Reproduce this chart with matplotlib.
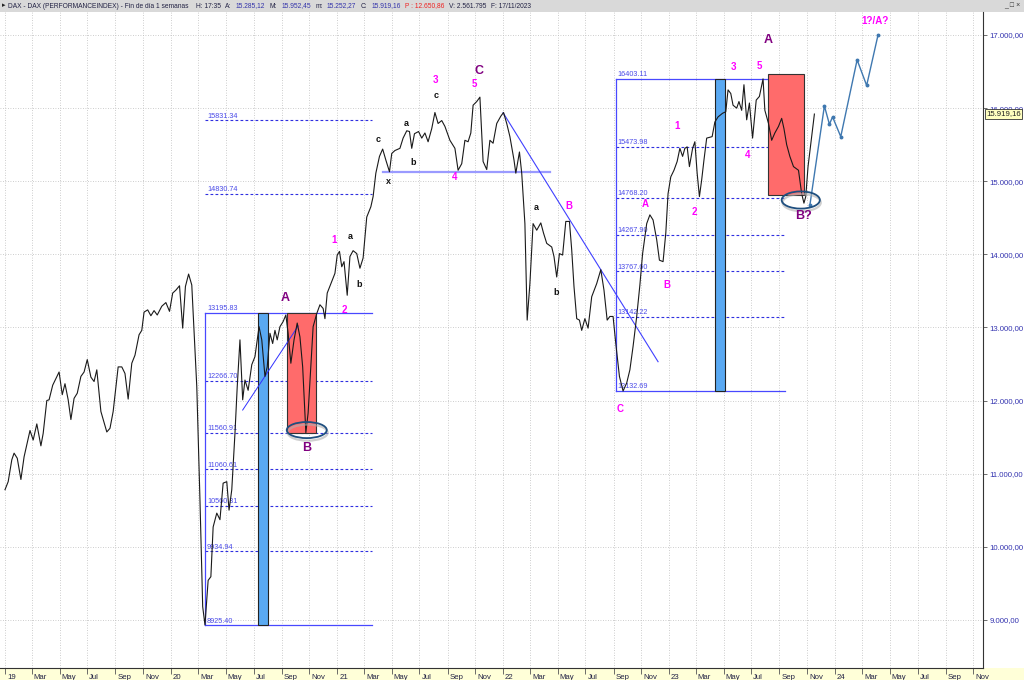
import numpy as np
import pandas as pd
import matplotlib
matplotlib.use('Agg')
import matplotlib.pyplot as plt
import matplotlib.dates as mdates
import matplotlib.transforms as mtransforms
from matplotlib.patches import Rectangle, Ellipse
from matplotlib.ticker import FuncFormatter

plt.rcParams['font.family'] = ['Liberation Sans', 'DejaVu Sans']

# weekly DAX closes
dates = ['2019-01-01', '2019-01-08', '2019-01-16', '2019-01-21', '2019-01-28', '2019-02-05', '2019-02-12',
         '2019-02-25', '2019-03-04', '2019-03-12', '2019-03-21', '2019-03-26', '2019-04-03', '2019-04-08',
         '2019-04-16', '2019-04-30', '2019-05-07', '2019-05-13', '2019-05-20', '2019-05-26', '2019-06-02',
         '2019-06-09', '2019-06-17', '2019-06-24', '2019-07-01', '2019-07-09', '2019-07-16', '2019-07-22',
         '2019-07-31', '2019-08-13', '2019-08-20', '2019-08-27', '2019-09-07', '2019-09-15', '2019-09-22',
         '2019-09-29', '2019-10-07', '2019-10-14', '2019-10-23', '2019-10-29', '2019-11-03', '2019-11-11',
         '2019-11-18', '2019-11-25', '2019-12-02', '2019-12-12', '2019-12-21', '2019-12-29',
         '2020-01-05', '2020-01-12', '2020-01-20', '2020-01-27', '2020-02-02', '2020-02-09', '2020-02-16',
         '2020-02-27', '2020-03-05', '2020-03-11', '2020-03-16', '2020-03-23', '2020-03-29', '2020-04-03',
         '2020-04-11', '2020-04-18', '2020-04-25', '2020-05-03', '2020-05-08', '2020-05-14', '2020-05-21',
         '2020-05-26', '2020-06-01', '2020-06-07', '2020-06-12', '2020-06-19', '2020-06-27', '2020-07-04',
         '2020-07-13', '2020-07-19', '2020-07-26', '2020-07-31', '2020-08-06', '2020-08-12', '2020-08-17',
         '2020-08-22', '2020-08-28', '2020-09-04', '2020-09-10', '2020-09-15', '2020-09-21', '2020-09-28',
         '2020-10-05', '2020-10-11', '2020-10-17', '2020-10-24', '2020-10-29', '2020-11-04', '2020-11-09',
         '2020-11-17', '2020-11-24', '2020-12-01', '2020-12-05', '2020-12-10', '2020-12-20', '2020-12-27',
         '2021-01-01', '2021-01-06', '2021-01-11', '2021-01-16', '2021-01-23', '2021-01-29', '2021-02-05',
         '2021-02-13', '2021-02-20', '2021-02-27', '2021-03-07', '2021-03-16', '2021-03-21', '2021-03-27',
         '2021-04-04', '2021-04-11', '2021-04-18', '2021-04-26', '2021-05-01', '2021-05-08', '2021-05-19',
         '2021-05-26', '2021-06-03', '2021-06-09', '2021-06-14', '2021-06-20', '2021-06-29', '2021-07-06',
         '2021-07-13', '2021-07-20', '2021-07-28', '2021-08-04', '2021-08-11', '2021-08-19', '2021-08-26',
         '2021-09-06', '2021-09-17', '2021-09-24', '2021-10-02', '2021-10-09', '2021-10-16', '2021-10-22',
         '2021-10-27', '2021-11-04', '2021-11-11', '2021-11-18', '2021-11-26', '2021-12-03', '2021-12-10',
         '2021-12-18', '2021-12-27',
         '2022-01-02', '2022-01-09', '2022-01-16', '2022-01-25', '2022-01-29', '2022-02-06', '2022-02-11',
         '2022-02-18', '2022-02-23', '2022-03-01', '2022-03-08', '2022-03-16', '2022-03-25', '2022-03-31',
         '2022-04-07', '2022-04-18', '2022-04-23', '2022-04-29', '2022-05-05', '2022-05-12', '2022-05-19',
         '2022-05-27', '2022-06-01', '2022-06-06', '2022-06-12', '2022-06-18', '2022-06-23', '2022-06-30',
         '2022-07-07', '2022-07-15', '2022-07-26', '2022-08-04', '2022-08-11', '2022-08-18', '2022-08-24',
         '2022-08-31', '2022-09-06', '2022-09-14', '2022-09-22', '2022-09-30', '2022-10-07', '2022-10-14',
         '2022-10-22', '2022-10-29', '2022-11-04', '2022-11-13', '2022-11-20', '2022-11-27', '2022-12-05',
         '2022-12-11', '2022-12-19', '2022-12-25', '2022-12-30',
         '2023-01-05', '2023-01-12', '2023-01-19', '2023-01-25', '2023-01-31', '2023-02-05', '2023-02-10',
         '2023-02-15', '2023-02-22', '2023-02-27', '2023-03-04', '2023-03-09', '2023-03-14', '2023-03-19',
         '2023-03-25', '2023-03-31', '2023-04-06', '2023-04-12', '2023-04-19', '2023-04-29', '2023-05-06',
         '2023-05-11', '2023-05-17', '2023-05-22', '2023-05-30', '2023-06-04', '2023-06-10', '2023-06-15',
         '2023-06-21', '2023-06-27', '2023-07-04', '2023-07-12', '2023-07-19', '2023-07-27', '2023-07-31',
         '2023-08-08', '2023-08-15', '2023-08-22', '2023-08-30', '2023-09-06', '2023-09-11', '2023-09-17',
         '2023-09-24', '2023-10-02', '2023-10-13', '2023-10-20', '2023-10-25', '2023-10-29', '2023-11-03',
         '2023-11-17']
close = [10780, 10890, 11190, 11280, 11210, 10920, 11230,
         11590, 11460, 11680, 11380, 11550, 12000, 12010,
         12210, 12390, 12080, 12230, 12010, 11740, 12030,
         12100, 12330, 12390, 12560, 12320, 12260, 12420,
         11850, 11570, 11620, 11850, 12460, 12460, 12370,
         12020, 12510, 12620, 12900, 12960, 13210, 13240,
         13160, 13230, 13170, 13290, 13340, 13220,
         13470, 13510, 13570, 12990, 13560, 13730, 13580,
         12190, 10640, 9180, 8930, 9540, 9590, 10270,
         10460, 10370, 10870, 10890, 10500, 10780, 11550,
         12190, 12830, 12010, 12280, 12140, 12490, 12600,
         13010, 12830, 12330, 12460, 12920, 12780, 12960,
         12830, 13010, 13080, 13170, 12920, 12510, 12830,
         13060, 12870, 12460, 11560, 11830, 12460, 13010,
         13190, 13310, 13260, 13120, 13470, 13630, 13740,
         13990, 14040, 13830, 13900, 13440, 13970, 14050,
         14010, 13810, 13950, 14510, 14650, 14790, 15110,
         15340, 15440, 15290, 15130, 15380, 15420, 15450,
         15590, 15690, 15680, 15450, 15650, 15680, 15590,
         15660, 15540, 15720, 15940, 15790, 15830, 15750,
         15560, 15450, 15150, 15240, 15560, 15540, 15660,
         16040, 16090, 16150, 15270, 15160, 15560, 15520,
         15790, 15890,
         15940, 15790, 15610, 15290, 15110, 15400, 15110,
         14420, 13100, 13600, 14420, 14330, 14430, 14290,
         14150, 14100, 13970, 13690, 14010, 13990, 14450,
         14450, 14060, 13560, 13120, 13100, 12960, 13120,
         12990, 13420, 13600, 13790, 13510, 13100, 13150,
         13150, 12780, 12330, 12130, 12240, 12420, 12740,
         13150, 13580, 14010, 14420, 14540, 14470, 14200,
         13920, 13900, 14290, 14830,
         15060, 15150, 15270, 15450, 15340, 15450, 15470,
         15200, 15450, 15540, 15110, 14790, 15020, 15290,
         15590, 15600, 15610, 15810, 15880, 15930, 15950,
         16250, 16200, 16040, 16000, 16090, 15970, 16320,
         15840, 16070, 15590, 16110, 16160, 16400, 15970,
         15790, 15560, 15660, 15750, 15860, 15720, 15500,
         15340, 15200, 15150, 14830, 14700, 14790, 15200,
         15919]

# projected path
proj_dates = ['2023-11-07', '2023-12-09', '2023-12-20', '2023-12-27', '2024-01-14', '2024-02-19',
              '2024-03-11', '2024-04-05']
proj_vals = [14670, 16030, 15780, 15880, 15610, 16660, 16310, 17000]

# fibonacci sets
fib_left = [13195.83, 12266.70, 11560.91, 11060.61, 10560.31, 9934.94, 8925.40]
fib_left_ext = [15831.34, 14830.74]
fib_left_span = ['2020-03-16', '2021-03-18']
fib_right = [16403.11, 15473.98, 14768.20, 14267.90, 13767.60, 13142.22, 12132.69]
fib_right_span = ['2022-09-06', '2023-09-13']

# time windows
blue_bars = [('2020-07-10', '2020-08-01', 8925.40, 13195.83), ('2023-04-12', '2023-05-04', 12132.69, 16403.11)]
red_boxes = [('2020-09-12', '2020-11-15', 11560.91, 13195.83), ('2023-08-07', '2023-10-25', 14810, 16470)]
ellipses = [('2020-10-26', 11596, 88, 220), ('2023-10-18', 14743, 84, 235)]

# trend lines
trend_up = (['2020-06-07', '2020-10-07'], [11870, 13019])
support = (['2021-04-11', '2022-04-14'], [15122, 15122])
trend_down = (['2022-01-01', '2022-12-08'], [15937, 12531])

# wave labels: (text, date, value, kind)
labels = [('A', '2020-09-08', 13400, 'big'), ('B', '2020-10-26', 11350, 'big'),
          ('1', '2020-12-25', 14196, 'num'), ('2', '2021-01-16', 13238, 'num'),
          ('a', '2021-01-29', 14250, 'sm'), ('b', '2021-02-18', 13594, 'sm'),
          ('c', '2021-04-01', 15564, 'sm'), ('x', '2021-04-23', 15003, 'sm'),
          ('a', '2021-06-03', 15796, 'sm'), ('b', '2021-06-17', 15263, 'sm'),
          ('c', '2021-08-06', 16166, 'sm'), ('3', '2021-08-06', 16384, 'num'),
          ('4', '2021-09-17', 15057, 'num'), ('5', '2021-10-29', 16330, 'num'),
          ('C', '2021-11-09', 16508, 'big'),
          ('a', '2022-03-16', 14647, 'sm'), ('B', '2022-05-26', 14661, 'num'),
          ('b', '2022-04-27', 13484, 'sm'), ('C', '2022-09-15', 11884, 'num'),
          ('A', '2022-11-09', 14690, 'num'), ('B', '2022-12-28', 13580, 'num'),
          ('1', '2023-01-19', 15755, 'num'), ('2', '2023-02-27', 14579, 'num'),
          ('3', '2023-05-24', 16562, 'num'), ('4', '2023-06-22', 15358, 'num'),
          ('5', '2023-07-18', 16576, 'num'), ('A', '2023-08-07', 16932, 'big'),
          ('B?', '2023-10-23', 14524, 'big'), ('1?/A?', '2024-03-29', 17190, 'num')]

yticks = [9000, 10000, 11000, 12000, 13000, 14000, 15000, 16000, 17000]
last_price = 15919.16

header = [('DAX - DAX (PERFORMANCEINDEX) - Fin de día 1 semanas', '#222244'),
          ('H: 17:35', '#222244'), ('A:', '#222244'), ('15.285,12', '#3333aa'),
          ('M:', '#222244'), ('15.952,45', '#3333aa'), ('m:', '#222244'),
          ('15.252,27', '#3333aa'), ('C:', '#222244'), ('15.919,16', '#3333aa'),
          ('P : 12.650,86', '#ee2222'), ('V: 2.561.795', '#222244'),
          ('F: 17/11/2023', '#222244')]


def eu(v):
    s = f'{v:,.2f}'
    return s.replace(',', 'X').replace('.', ',').replace('X', '.')


d = pd.to_datetime(dates)
fig = plt.figure(figsize=(10.24, 6.8), dpi=100)
fig.patch.set_facecolor('white')
ax = fig.add_axes([0, 12 / 680, 983 / 1024, 656 / 680])

ax.set_xlim(pd.Timestamp('2018-12-21'), pd.Timestamp('2024-11-22'))
ax.set_ylim(8341, 17315)

# grid
ax.xaxis.set_major_locator(mdates.MonthLocator(bymonth=[1, 3, 5, 7, 9, 11]))
ax.xaxis.set_major_formatter(FuncFormatter(
    lambda x, p: mdates.num2date(x).strftime('%y') if mdates.num2date(x).month == 1
    else mdates.num2date(x).strftime('%b')))
ax.set_yticks(yticks)
ax.yaxis.set_major_formatter(FuncFormatter(lambda v, p: eu(v)))
ax.grid(True, color='#bdbdbd', linestyle=(0, (1, 2)), linewidth=0.6)
ax.set_axisbelow(True)

# fibonacci lines
fl = pd.to_datetime(fib_left_span)
for lv in fib_left + fib_left_ext:
    solid = lv in (fib_left[0], fib_left[-1])
    ax.plot(fl, [lv, lv], color='#4848ff' if solid else '#2f2fe0', lw=0.9 if solid else 0.8,
            linestyle='-' if solid else (0, (2.5, 2)), zorder=2)
    ax.annotate(f'{lv:.2f}', (fl[0], lv), xytext=(1.5, 0.5), textcoords='offset points',
                fontsize=5.2, color='#4a4ae8', va='bottom', ha='left')
ax.plot([fl[0], fl[0]], [fib_left[-1], fib_left[0]], color='#4848ff', lw=0.9, zorder=2)

fr = pd.to_datetime(fib_right_span)
for lv in fib_right:
    solid = lv in (fib_right[0], fib_right[-1])
    ax.plot(fr, [lv, lv], color='#4848ff' if solid else '#2f2fe0', lw=0.9 if solid else 0.8,
            linestyle='-' if solid else (0, (2.5, 2)), zorder=2)
    ax.annotate(f'{lv:.2f}', (fr[0], lv), xytext=(1.5, 0.5), textcoords='offset points',
                fontsize=5.2, color='#4a4ae8', va='bottom', ha='left')
ax.plot([fr[0], fr[0]], [fib_right[-1], fib_right[0]], color='#4848ff', lw=0.9, zorder=2)

# time windows
for a, b, lo, hi in blue_bars:
    x0 = mdates.date2num(pd.Timestamp(a))
    x1 = mdates.date2num(pd.Timestamp(b))
    ax.add_patch(Rectangle((x0, lo), x1 - x0, hi - lo, facecolor='#5aa9f2', edgecolor='#222222',
                           lw=0.8, zorder=3))
for a, b, lo, hi in red_boxes:
    x0 = mdates.date2num(pd.Timestamp(a))
    x1 = mdates.date2num(pd.Timestamp(b))
    ax.add_patch(Rectangle((x0, lo), x1 - x0, hi - lo, facecolor='#ff6b6b', edgecolor='#333333',
                           lw=0.8, zorder=3))

# trend lines
ax.plot(pd.to_datetime(trend_up[0]), trend_up[1], color='#3030ff', lw=0.7, zorder=4)
ax.plot(pd.to_datetime(support[0]), support[1], color='#9a9aff', lw=1.6, zorder=4)
ax.plot(pd.to_datetime(trend_down[0]), trend_down[1], color='#4040ff', lw=0.8, zorder=4)

# price
ax.plot(d, close, color='#1a1a1a', lw=0.8, zorder=5)

# projection
ax.plot(pd.to_datetime(proj_dates), proj_vals, color='#3f78b0', lw=1.0, marker='o', ms=1.8, zorder=5)

# circles
for c, v, w, h in ellipses:
    xc = mdates.date2num(pd.Timestamp(c))
    ax.add_patch(Ellipse((xc + 2, v - 35), w, h, facecolor='none', edgecolor='#b0b0b0', lw=1.6,
                         alpha=0.6, zorder=5))
    ax.add_patch(Ellipse((xc, v), w, h, facecolor='none', edgecolor='#1f4f7f', lw=1.3, zorder=6))

# wave labels
style = {'big': dict(fontsize=9, color='#800080', fontweight='bold'),
         'num': dict(fontsize=7, color='#ff00ff', fontweight='bold'),
         'sm': dict(fontsize=6.5, color='#111111', fontweight='bold')}
for t, dt, v, k in labels:
    ax.text(pd.Timestamp(dt), v, t, ha='center', va='center', zorder=7, **style[k])

# axes styling
for s in ['top', 'left']:
    ax.spines[s].set_visible(False)
ax.spines['right'].set_color('#333333')
ax.spines['bottom'].set_color('#333333')
ax.yaxis.tick_right()
ax.tick_params(axis='y', labelsize=5.6, labelcolor='#3434b0', length=3, width=0.6, color='#555555', pad=1.5)
ax.tick_params(axis='x', labelsize=5.6, labelcolor='#222244', length=4, width=0.6, color='#555555', pad=0.5)
off = mtransforms.ScaledTranslation(2 / 100, 0, fig.dpi_scale_trans)
for lab in ax.get_xticklabels():
    lab.set_horizontalalignment('left')
    lab.set_transform(lab.get_transform() + off)

# last price tag (sits over the 16.000 label, as in the source chart)
ax.text(1.003, last_price, eu(last_price), transform=mtransforms.blended_transform_factory(ax.transAxes, ax.transData),
        fontsize=5.6, color='#222222', va='center', ha='left', clip_on=False, zorder=10,
        bbox=dict(boxstyle='square,pad=0.15', facecolor='#ffffc0', edgecolor='#333333', lw=0.6))

# bottom strip and title bar
fig.patches.append(Rectangle((0, 0), 1, 12 / 680, transform=fig.transFigure, facecolor='#ffffd8',
                             edgecolor='none', zorder=-1))
fig.patches.append(Rectangle((0, 1 - 12 / 680), 1, 12 / 680, transform=fig.transFigure,
                             facecolor='#d9d9d9', edgecolor='none', zorder=-1))
ty = 1 - 6 / 680
renderer = fig.canvas.get_renderer()
# measure the header at a trial size, then scale it to span ~524 px like the original
trial = 5.0
widths = []
for t, c in header:
    tt = fig.text(0, 0, t, fontsize=trial)
    widths.append(tt.get_window_extent(renderer).width)
    tt.remove()
gap = 4
fs = trial * (524 - gap * (len(header) - 1)) / sum(widths)
x = 8
for (t, c), w in zip(header, widths):
    fig.text(x / 1024, ty, t, fontsize=fs, color=c, va='center', ha='left')
    x += w * fs / trial + gap
fig.text(2 / 1024, ty, '\u25b8', fontsize=5, color='#222222', va='center', ha='left')
fig.text(1020 / 1024, ty, '_ \u25a1 \u00d7', fontsize=5, color='#333333', va='center', ha='right')

fig.savefig('out.png', dpi=100)
